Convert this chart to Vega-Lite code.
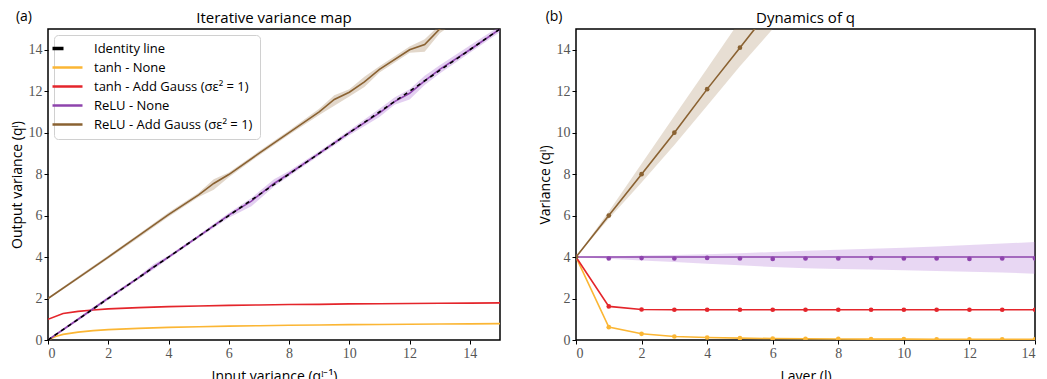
{
  "$schema": "https://vega.github.io/schema/vega-lite/v6.json",
  "padding": {"left": 9, "top": 9, "right": 5, "bottom": 5},
  "spacing": 33,
  "config": {
    "view": {"stroke": "black", "strokeWidth": 1.5},
    "axis": {"grid": false, "domain": false, "tickColor": "black", "tickSize": 4, "tickWidth": 1, "labelFont": "Liberation Serif", "labelFontSize": 14, "labelColor": "#555", "labelPadding": 2, "titleFont": "Open Sans", "titleFontSize": 14, "titleFontWeight": "normal", "titleColor": "black"},
    "title": {"font": "Open Sans", "fontSize": 15, "fontWeight": "normal", "offset": -16}
  },
  "resolve": {"scale": {"color": "independent"}},
  "datasets": {
    "left": [
      {"x": 0, "y": 0.0, "s": "tanh - None"}, {"x": 0.25, "y": 0.17, "s": "tanh - None"}, {"x": 0.5, "y": 0.27, "s": "tanh - None"}, {"x": 1, "y": 0.38, "s": "tanh - None"}, {"x": 1.5, "y": 0.45, "s": "tanh - None"}, {"x": 2, "y": 0.5, "s": "tanh - None"}, {"x": 3, "y": 0.56, "s": "tanh - None"}, {"x": 4, "y": 0.61, "s": "tanh - None"}, {"x": 5, "y": 0.64, "s": "tanh - None"}, {"x": 6, "y": 0.67, "s": "tanh - None"}, {"x": 7, "y": 0.69, "s": "tanh - None"}, {"x": 8, "y": 0.71, "s": "tanh - None"}, {"x": 9, "y": 0.72, "s": "tanh - None"}, {"x": 10, "y": 0.74, "s": "tanh - None"}, {"x": 11, "y": 0.75, "s": "tanh - None"}, {"x": 12, "y": 0.76, "s": "tanh - None"}, {"x": 13, "y": 0.77, "s": "tanh - None"}, {"x": 14, "y": 0.78, "s": "tanh - None"}, {"x": 15, "y": 0.79, "s": "tanh - None"},
      {"x": 0, "y": 1.0, "s": "tanh - Add Gauss (σε² = 1)"}, {"x": 0.5, "y": 1.28, "s": "tanh - Add Gauss (σε² = 1)"}, {"x": 1, "y": 1.38, "s": "tanh - Add Gauss (σε² = 1)"}, {"x": 1.5, "y": 1.45, "s": "tanh - Add Gauss (σε² = 1)"}, {"x": 2, "y": 1.5, "s": "tanh - Add Gauss (σε² = 1)"}, {"x": 3, "y": 1.56, "s": "tanh - Add Gauss (σε² = 1)"}, {"x": 4, "y": 1.61, "s": "tanh - Add Gauss (σε² = 1)"}, {"x": 5, "y": 1.64, "s": "tanh - Add Gauss (σε² = 1)"}, {"x": 6, "y": 1.67, "s": "tanh - Add Gauss (σε² = 1)"}, {"x": 7, "y": 1.69, "s": "tanh - Add Gauss (σε² = 1)"}, {"x": 8, "y": 1.71, "s": "tanh - Add Gauss (σε² = 1)"}, {"x": 9, "y": 1.72, "s": "tanh - Add Gauss (σε² = 1)"}, {"x": 10, "y": 1.74, "s": "tanh - Add Gauss (σε² = 1)"}, {"x": 11, "y": 1.75, "s": "tanh - Add Gauss (σε² = 1)"}, {"x": 12, "y": 1.76, "s": "tanh - Add Gauss (σε² = 1)"}, {"x": 13, "y": 1.77, "s": "tanh - Add Gauss (σε² = 1)"}, {"x": 14, "y": 1.78, "s": "tanh - Add Gauss (σε² = 1)"}, {"x": 15, "y": 1.79, "s": "tanh - Add Gauss (σε² = 1)"},
      {"x": 0, "y": 0.0, "s": "ReLU - None"}, {"x": 1, "y": 1.0, "s": "ReLU - None"}, {"x": 2, "y": 2.02, "s": "ReLU - None"}, {"x": 3, "y": 3.0, "s": "ReLU - None"}, {"x": 3.5, "y": 3.52, "s": "ReLU - None"}, {"x": 4, "y": 4.0, "s": "ReLU - None"}, {"x": 5, "y": 5.0, "s": "ReLU - None"}, {"x": 6, "y": 6.02, "s": "ReLU - None"}, {"x": 6.75, "y": 6.7, "s": "ReLU - None"}, {"x": 7.5, "y": 7.55, "s": "ReLU - None"}, {"x": 8, "y": 8.02, "s": "ReLU - None"}, {"x": 9, "y": 9.0, "s": "ReLU - None"}, {"x": 10, "y": 10.0, "s": "ReLU - None"}, {"x": 11, "y": 10.95, "s": "ReLU - None"}, {"x": 11.5, "y": 11.5, "s": "ReLU - None"}, {"x": 12, "y": 11.9, "s": "ReLU - None"}, {"x": 12.5, "y": 12.5, "s": "ReLU - None"}, {"x": 13, "y": 13.05, "s": "ReLU - None"}, {"x": 14, "y": 14.0, "s": "ReLU - None"}, {"x": 15, "y": 15.0, "s": "ReLU - None"},
      {"x": 0, "y": 2.0, "s": "ReLU - Add Gauss (σε² = 1)"}, {"x": 1, "y": 3.0, "s": "ReLU - Add Gauss (σε² = 1)"}, {"x": 2, "y": 4.0, "s": "ReLU - Add Gauss (σε² = 1)"}, {"x": 3, "y": 5.02, "s": "ReLU - Add Gauss (σε² = 1)"}, {"x": 4, "y": 6.05, "s": "ReLU - Add Gauss (σε² = 1)"}, {"x": 5, "y": 7.0, "s": "ReLU - Add Gauss (σε² = 1)"}, {"x": 5.5, "y": 7.55, "s": "ReLU - Add Gauss (σε² = 1)"}, {"x": 6, "y": 7.98, "s": "ReLU - Add Gauss (σε² = 1)"}, {"x": 7, "y": 9.0, "s": "ReLU - Add Gauss (σε² = 1)"}, {"x": 8, "y": 10.0, "s": "ReLU - Add Gauss (σε² = 1)"}, {"x": 9, "y": 11.0, "s": "ReLU - Add Gauss (σε² = 1)"}, {"x": 9.5, "y": 11.6, "s": "ReLU - Add Gauss (σε² = 1)"}, {"x": 10, "y": 11.95, "s": "ReLU - Add Gauss (σε² = 1)"}, {"x": 10.5, "y": 12.45, "s": "ReLU - Add Gauss (σε² = 1)"}, {"x": 11, "y": 13.05, "s": "ReLU - Add Gauss (σε² = 1)"}, {"x": 12, "y": 14.0, "s": "ReLU - Add Gauss (σε² = 1)"}, {"x": 12.5, "y": 14.25, "s": "ReLU - Add Gauss (σε² = 1)"}, {"x": 13, "y": 15.0, "s": "ReLU - Add Gauss (σε² = 1)"}, {"x": 14, "y": 16.0, "s": "ReLU - Add Gauss (σε² = 1)"}
    ],
    "lband": [
      {"x": 0, "lo": 1.95, "hi": 2.05, "s": "b"}, {"x": 1, "lo": 2.93, "hi": 3.07, "s": "b"}, {"x": 2, "lo": 3.92, "hi": 4.08, "s": "b"}, {"x": 3, "lo": 4.92, "hi": 5.1, "s": "b"}, {"x": 4, "lo": 5.95, "hi": 6.15, "s": "b"}, {"x": 5, "lo": 6.9, "hi": 7.1, "s": "b"}, {"x": 5.5, "lo": 7.25, "hi": 7.75, "s": "b"}, {"x": 6, "lo": 7.85, "hi": 8.08, "s": "b"}, {"x": 7, "lo": 8.9, "hi": 9.1, "s": "b"}, {"x": 8, "lo": 9.9, "hi": 10.1, "s": "b"}, {"x": 9, "lo": 10.85, "hi": 11.15, "s": "b"}, {"x": 9.5, "lo": 11.3, "hi": 11.8, "s": "b"}, {"x": 10, "lo": 11.75, "hi": 12.1, "s": "b"}, {"x": 10.5, "lo": 12.2, "hi": 12.7, "s": "b"}, {"x": 11, "lo": 12.9, "hi": 13.2, "s": "b"}, {"x": 12, "lo": 13.85, "hi": 14.15, "s": "b"}, {"x": 12.5, "lo": 13.9, "hi": 14.5, "s": "b"}, {"x": 13, "lo": 14.8, "hi": 15.2, "s": "b"}, {"x": 14, "lo": 15.8, "hi": 16.2, "s": "b"},
      {"x": 0, "lo": -0.05, "hi": 0.05, "s": "p"}, {"x": 1, "lo": 0.93, "hi": 1.07, "s": "p"}, {"x": 2, "lo": 1.93, "hi": 2.1, "s": "p"}, {"x": 3, "lo": 2.92, "hi": 3.08, "s": "p"}, {"x": 3.5, "lo": 3.4, "hi": 3.65, "s": "p"}, {"x": 4, "lo": 3.92, "hi": 4.08, "s": "p"}, {"x": 5, "lo": 4.92, "hi": 5.08, "s": "p"}, {"x": 6, "lo": 5.9, "hi": 6.12, "s": "p"}, {"x": 6.75, "lo": 6.45, "hi": 6.85, "s": "p"}, {"x": 7.5, "lo": 7.4, "hi": 7.75, "s": "p"}, {"x": 8, "lo": 7.9, "hi": 8.15, "s": "p"}, {"x": 9, "lo": 8.9, "hi": 9.1, "s": "p"}, {"x": 10, "lo": 9.88, "hi": 10.12, "s": "p"}, {"x": 11, "lo": 10.75, "hi": 11.15, "s": "p"}, {"x": 11.5, "lo": 11.35, "hi": 11.7, "s": "p"}, {"x": 12, "lo": 11.6, "hi": 12.1, "s": "p"}, {"x": 12.5, "lo": 12.3, "hi": 12.75, "s": "p"}, {"x": 13, "lo": 12.85, "hi": 13.25, "s": "p"}, {"x": 14, "lo": 13.85, "hi": 14.2, "s": "p"}, {"x": 15, "lo": 14.85, "hi": 15.15, "s": "p"}
    ],
    "right": [
      {"l": 0, "v": 4, "m": 4, "s": "tanh - None"}, {"l": 1, "v": 0.62, "m": 0.62, "s": "tanh - None"}, {"l": 2, "v": 0.3, "m": 0.3, "s": "tanh - None"}, {"l": 3, "v": 0.17, "m": 0.17, "s": "tanh - None"}, {"l": 4, "v": 0.12, "m": 0.12, "s": "tanh - None"}, {"l": 5, "v": 0.09, "m": 0.09, "s": "tanh - None"}, {"l": 6, "v": 0.07, "m": 0.07, "s": "tanh - None"}, {"l": 7, "v": 0.06, "m": 0.06, "s": "tanh - None"}, {"l": 8, "v": 0.05, "m": 0.05, "s": "tanh - None"}, {"l": 9, "v": 0.04, "m": 0.04, "s": "tanh - None"}, {"l": 10, "v": 0.04, "m": 0.04, "s": "tanh - None"}, {"l": 11, "v": 0.03, "m": 0.03, "s": "tanh - None"}, {"l": 12, "v": 0.03, "m": 0.03, "s": "tanh - None"}, {"l": 13, "v": 0.03, "m": 0.03, "s": "tanh - None"}, {"l": 14, "v": 0.03, "m": 0.03, "s": "tanh - None"},
      {"l": 0, "v": 4, "m": 4, "s": "tanh - Add Gauss (σε² = 1)"}, {"l": 1, "v": 1.62, "m": 1.62, "s": "tanh - Add Gauss (σε² = 1)"}, {"l": 2, "v": 1.47, "m": 1.47, "s": "tanh - Add Gauss (σε² = 1)"}, {"l": 3, "v": 1.46, "m": 1.46, "s": "tanh - Add Gauss (σε² = 1)"}, {"l": 4, "v": 1.46, "m": 1.46, "s": "tanh - Add Gauss (σε² = 1)"}, {"l": 5, "v": 1.46, "m": 1.46, "s": "tanh - Add Gauss (σε² = 1)"}, {"l": 6, "v": 1.46, "m": 1.46, "s": "tanh - Add Gauss (σε² = 1)"}, {"l": 7, "v": 1.46, "m": 1.46, "s": "tanh - Add Gauss (σε² = 1)"}, {"l": 8, "v": 1.46, "m": 1.46, "s": "tanh - Add Gauss (σε² = 1)"}, {"l": 9, "v": 1.46, "m": 1.46, "s": "tanh - Add Gauss (σε² = 1)"}, {"l": 10, "v": 1.46, "m": 1.46, "s": "tanh - Add Gauss (σε² = 1)"}, {"l": 11, "v": 1.46, "m": 1.46, "s": "tanh - Add Gauss (σε² = 1)"}, {"l": 12, "v": 1.46, "m": 1.46, "s": "tanh - Add Gauss (σε² = 1)"}, {"l": 13, "v": 1.46, "m": 1.46, "s": "tanh - Add Gauss (σε² = 1)"}, {"l": 14, "v": 1.46, "m": 1.46, "s": "tanh - Add Gauss (σε² = 1)"},
      {"l": 0, "v": 4, "m": 4, "s": "ReLU - None"}, {"l": 1, "v": 4, "m": 3.93, "s": "ReLU - None"}, {"l": 2, "v": 4, "m": 3.95, "s": "ReLU - None"}, {"l": 3, "v": 4, "m": 3.93, "s": "ReLU - None"}, {"l": 4, "v": 4, "m": 3.96, "s": "ReLU - None"}, {"l": 5, "v": 4, "m": 3.93, "s": "ReLU - None"}, {"l": 6, "v": 4, "m": 3.91, "s": "ReLU - None"}, {"l": 7, "v": 4, "m": 3.93, "s": "ReLU - None"}, {"l": 8, "v": 4, "m": 3.93, "s": "ReLU - None"}, {"l": 9, "v": 4, "m": 3.95, "s": "ReLU - None"}, {"l": 10, "v": 4, "m": 3.93, "s": "ReLU - None"}, {"l": 11, "v": 4, "m": 3.93, "s": "ReLU - None"}, {"l": 12, "v": 4, "m": 3.91, "s": "ReLU - None"}, {"l": 13, "v": 4, "m": 3.93, "s": "ReLU - None"}, {"l": 14, "v": 4, "m": 3.93, "s": "ReLU - None"},
      {"l": 0, "v": 4, "m": 4, "s": "ReLU - Add Gauss (σε² = 1)"}, {"l": 1, "v": 6.0, "m": 6.0, "s": "ReLU - Add Gauss (σε² = 1)"}, {"l": 2, "v": 8.0, "m": 8.0, "s": "ReLU - Add Gauss (σε² = 1)"}, {"l": 3, "v": 10.0, "m": 10.0, "s": "ReLU - Add Gauss (σε² = 1)"}, {"l": 4, "v": 12.1, "m": 12.1, "s": "ReLU - Add Gauss (σε² = 1)"}, {"l": 5, "v": 14.1, "m": 14.1, "s": "ReLU - Add Gauss (σε² = 1)"}, {"l": 6, "v": 16.1, "m": 16.1, "s": "ReLU - Add Gauss (σε² = 1)"}, {"l": 7, "v": 18.1, "m": 18.1, "s": "ReLU - Add Gauss (σε² = 1)"}
    ],
    "rband": [
      {"l": 0, "lo": 4, "hi": 4, "s": "b"}, {"l": 1, "lo": 5.85, "hi": 6.2, "s": "b"}, {"l": 2, "lo": 7.6, "hi": 8.5, "s": "b"}, {"l": 3, "lo": 9.4, "hi": 10.8, "s": "b"}, {"l": 4, "lo": 11.3, "hi": 13.1, "s": "b"}, {"l": 5, "lo": 13.2, "hi": 15.4, "s": "b"}, {"l": 6, "lo": 15.0, "hi": 17.7, "s": "b"}, {"l": 7, "lo": 16.8, "hi": 20.0, "s": "b"},
      {"l": 0, "lo": 4, "hi": 4, "s": "p"}, {"l": 1, "lo": 3.92, "hi": 4.03, "s": "p"}, {"l": 2, "lo": 3.84, "hi": 4.07, "s": "p"}, {"l": 3, "lo": 3.76, "hi": 4.1, "s": "p"}, {"l": 4, "lo": 3.68, "hi": 4.14, "s": "p"}, {"l": 5, "lo": 3.6, "hi": 4.19, "s": "p"}, {"l": 6, "lo": 3.52, "hi": 4.24, "s": "p"}, {"l": 7, "lo": 3.46, "hi": 4.3, "s": "p"}, {"l": 8, "lo": 3.43, "hi": 4.35, "s": "p"}, {"l": 9, "lo": 3.4, "hi": 4.4, "s": "p"}, {"l": 10, "lo": 3.37, "hi": 4.45, "s": "p"}, {"l": 11, "lo": 3.33, "hi": 4.51, "s": "p"}, {"l": 12, "lo": 3.29, "hi": 4.58, "s": "p"}, {"l": 13, "lo": 3.25, "hi": 4.65, "s": "p"}, {"l": 14, "lo": 3.2, "hi": 4.73, "s": "p"}
    ]
  },
  "hconcat": [
    {
      "width": 452, "height": 311,
      "title": {"text": "Iterative variance map"},
      "layer": [
        {
          "data": {"name": "lband"},
          "mark": {"type": "area", "opacity": 0.3, "clip": true},
          "encoding": {
            "x": {"field": "x", "type": "quantitative", "scale": {"domain": [0, 15], "nice": false}, "axis": {"values": [0, 2, 4, 6, 8, 10, 12, 14], "title": "Input variance (qˡ⁻¹)", "titlePadding": 9, "labelFont": "Liberation Serif"}},
            "y": {"field": "lo", "type": "quantitative", "scale": {"domain": [0, 15], "nice": false}, "axis": {"values": [0, 2, 4, 6, 8, 10, 12, 14], "title": "Output variance (qˡ)", "titlePadding": 4, "labelFont": "Liberation Serif"}},
            "y2": {"field": "hi"},
            "detail": {"field": "s"},
            "fill": {"field": "s", "type": "nominal", "scale": {"domain": ["b", "p"], "range": ["#a07b50", "#a35fd0"]}, "legend": null}
          }
        },
        {
          "data": {"name": "left"},
          "mark": {"type": "line", "strokeWidth": 1.6, "clip": true},
          "encoding": {
            "x": {"field": "x", "type": "quantitative"},
            "y": {"field": "y", "type": "quantitative"},
            "color": {
              "field": "s", "type": "nominal",
              "scale": {"domain": ["Identity line", "tanh - None", "tanh - Add Gauss (σε² = 1)", "ReLU - None", "ReLU - Add Gauss (σε² = 1)"], "range": ["black", "#fbb634", "#e4252b", "#8e44ad", "#8a6232"]},
              "legend": {
                "orient": "top-left", "offset": 6, "title": null, "symbolType": "stroke", "symbolSize": 900, "symbolStrokeWidth": 2.5,
                "labelFont": "Open Sans", "labelFontSize": 13, "labelColor": "black", "rowPadding": 5, "labelOffset": 20, "gridAlign": "all",
                "strokeColor": "#d0d0d0", "fillColor": "white", "cornerRadius": 4, "padding": 7,
                "encode": {"symbols": {"update": {"strokeDash": {"signal": "datum.value === 'Identity line' ? [11, 100] : [100, 0]"}, "strokeWidth": {"signal": "datum.value === 'Identity line' ? 3.5 : 2.5"}}}}
              }
            }
          }
        },
        {
          "data": {"values": [{"x": 0, "y": 0}, {"x": 15, "y": 15}]},
          "mark": {"type": "line", "strokeDash": [4, 4], "strokeWidth": 1.6},
          "encoding": {
            "x": {"field": "x", "type": "quantitative"},
            "y": {"field": "y", "type": "quantitative"},
            "color": {"datum": "Identity line"}
          }
        },
        {
          "data": {"values": [{"t": "(a)"}]},
          "mark": {"type": "text", "font": "Open Sans", "fontSize": 14, "align": "center", "baseline": "middle"},
          "encoding": {
            "x": {"datum": -0.8},
            "y": {"datum": 15.56},
            "text": {"field": "t"}
          }
        }
      ]
    },
    {
      "width": 459, "height": 311,
      "title": {"text": "Dynamics of q"},
      "layer": [
        {
          "data": {"name": "rband"},
          "mark": {"type": "area", "opacity": 0.25, "clip": true},
          "encoding": {
            "x": {"field": "l", "type": "quantitative", "scale": {"domain": [0, 14], "nice": false}, "axis": {"values": [0, 2, 4, 6, 8, 10, 12, 14], "title": "Layer (l)", "titlePadding": 9, "labelFont": "Liberation Serif"}},
            "y": {"field": "lo", "type": "quantitative", "scale": {"domain": [0, 15], "nice": false}, "axis": {"values": [0, 2, 4, 6, 8, 10, 12, 14], "title": "Variance (qˡ)", "titlePadding": 4, "labelFont": "Liberation Serif"}},
            "y2": {"field": "hi"},
            "detail": {"field": "s"},
            "fill": {"field": "s", "type": "nominal", "scale": {"domain": ["b", "p"], "range": ["#b59b7c", "#a35fd0"]}, "legend": null}
          }
        },
        {
          "data": {"name": "right"},
          "mark": {"type": "line", "strokeWidth": 1.6, "clip": true},
          "encoding": {
            "x": {"field": "l", "type": "quantitative"},
            "y": {"field": "v", "type": "quantitative"},
            "color": {"field": "s", "type": "nominal", "scale": {"domain": ["Identity line", "tanh - None", "tanh - Add Gauss (σε² = 1)", "ReLU - None", "ReLU - Add Gauss (σε² = 1)"], "range": ["black", "#fbb634", "#e4252b", "#8e44ad", "#8a6232"]}, "legend": null}
          }
        },
        {
          "data": {"name": "right"},
          "mark": {"type": "point", "filled": true, "size": 22, "opacity": 1, "clip": true},
          "encoding": {
            "x": {"field": "l", "type": "quantitative"},
            "y": {"field": "m", "type": "quantitative"},
            "color": {"field": "s", "type": "nominal", "legend": null}
          }
        },
        {
          "data": {"values": [{"t": "(b)"}]},
          "mark": {"type": "text", "font": "Open Sans", "fontSize": 14, "align": "center", "baseline": "middle"},
          "encoding": {
            "x": {"datum": -0.67},
            "y": {"datum": 15.56},
            "text": {"field": "t"}
          }
        }
      ]
    }
  ]
}
